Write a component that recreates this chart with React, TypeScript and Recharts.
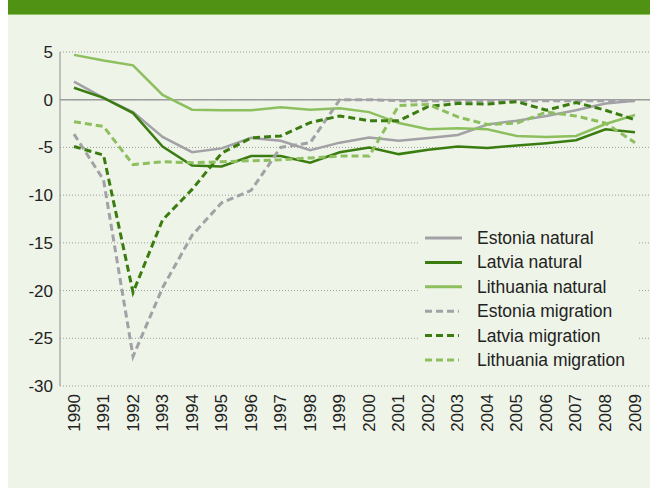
import { LineChart, Line, XAxis, YAxis, CartesianGrid, ReferenceLine, Legend } from "recharts";

const years = [
  "1990", "1991", "1992", "1993", "1994", "1995", "1996", "1997", "1998", "1999",
  "2000", "2001", "2002", "2003", "2004", "2005", "2006", "2007", "2008", "2009",
];

const estoniaNatural = [1.9, 0.2, -1.3, -3.9, -5.5, -5.1, -4.0, -4.3, -5.3, -4.5, -3.95, -4.3, -4.0, -3.7, -2.6, -2.2, -1.7, -1.1, -0.4, -0.1];
const latviaNatural = [1.25, 0.2, -1.4, -4.9, -6.9, -7.0, -5.9, -5.9, -6.6, -5.5, -5.0, -5.7, -5.25, -4.9, -5.05, -4.8, -4.55, -4.25, -3.1, -3.4];
const lithuaniaNatural = [4.7, 4.1, 3.6, 0.5, -1.05, -1.1, -1.1, -0.8, -1.05, -0.9, -1.3, -2.45, -3.1, -3.0, -3.1, -3.8, -3.9, -3.8, -2.55, -1.6];
const estoniaMigration = [-3.6, -8.4, -26.9, -19.7, -14.2, -10.8, -9.5, -5.0, -4.5, 0, 0, -0.1, -0.1, -0.1, -0.1, -0.1, -0.1, -0.1, -0.1, -0.1];
const latviaMigration = [-4.9, -5.8, -20.2, -12.6, -9.4, -5.6, -4.0, -3.8, -2.4, -1.7, -2.2, -2.2, -0.7, -0.4, -0.45, -0.2, -1.1, -0.3, -1.1, -2.1];
const lithuaniaMigration = [-2.3, -2.8, -6.8, -6.5, -6.6, -6.5, -6.4, -6.3, -6.1, -5.9, -5.9, -0.6, -0.5, -1.8, -2.6, -2.45, -1.3, -1.7, -2.45, -4.5];

const yTicks = [5, 0, -5, -10, -15, -20, -25, -30];

const data = years.map((year, i) => ({
  year,
  estNat: estoniaNatural[i],
  latNat: latviaNatural[i],
  litNat: lithuaniaNatural[i],
  estMig: estoniaMigration[i],
  latMig: latviaMigration[i],
  litMig: lithuaniaMigration[i],
}));

const GRAY = "#a2a1a6";
const DARK = "#3a7c10";
const LIGHT = "#8dbf5f";
const BG = "#eef4e8";
const FONT = "'Liberation Sans', Arial, sans-serif";

const series = [
  { key: "estNat", name: "Estonia natural", color: GRAY, dashed: false },
  { key: "latNat", name: "Latvia natural", color: DARK, dashed: false },
  { key: "litNat", name: "Lithuania natural", color: LIGHT, dashed: false },
  { key: "estMig", name: "Estonia migration", color: GRAY, dashed: true },
  { key: "latMig", name: "Latvia migration", color: DARK, dashed: true },
  { key: "litMig", name: "Lithuania migration", color: LIGHT, dashed: true },
];

function YearTick({ x, y, payload }: any) {
  const yy = y;
  return (
    <text
      x={x}
      y={yy}
      transform={`rotate(-90, ${x}, ${yy})`}
      textAnchor="end"
      dominantBaseline="central"
      fill="#222"
      fontSize={17}
      fontFamily={FONT}
    >
      {payload.value}
    </text>
  );
}

function LegendBox() {
  return (
    <svg width={220} height={148} style={{ display: "block" }}>
      <rect x={0} y={0} width={220} height={148} fill={BG} />
      {series.map((s, i) => {
        const cy = 12 + i * 24.4;
        return (
          <g key={s.key}>
            <line
              x1={7}
              x2={s.dashed ? 41 : 44}
              y1={cy}
              y2={cy}
              stroke={s.color}
              strokeWidth={3}
              strokeDasharray={s.dashed ? "7 4" : undefined}
            />
            <text x={59} y={cy} dominantBaseline="central" fill="#222" fontSize={17.5} fontFamily={FONT}>
              {s.name}
            </text>
          </g>
        );
      })}
    </svg>
  );
}

export default function App() {
  return (
    <div style={{ position: "absolute", left: 8, top: 0, width: 642, height: 488, background: BG }}>
      <div style={{ position: "absolute", left: 0, top: 0, width: 642, height: 14, background: "#4f9214", borderBottom: "1px solid #8ec45f" }} />
      <div style={{ position: "absolute", left: 0, top: 0 }}>
        <LineChart width={642} height={488} data={data} margin={{ top: 52, right: 0, bottom: 42, left: 0 }}>
          <CartesianGrid vertical={false} stroke="#9c9c9c" strokeDasharray="1 2" />
          <XAxis
            dataKey="year"
            interval={0}
            tickLine={false}
            axisLine={false}
            height={60}
            padding={{ left: 14, right: 15 }}
            tick={<YearTick />}
          />
          <YAxis
            domain={[-30, 5]}
            ticks={yTicks}
            width={52}
            tickLine={false}
            tickMargin={1}
            axisLine={{ stroke: "#9c9c9c", strokeWidth: 1.2 }}
            tick={{ fill: "#222", fontSize: 17, fontFamily: FONT }}
            allowDataOverflow
          />
          <ReferenceLine y={0} stroke="#9c9c9c" strokeWidth={1.5} />
          {series.map((s) => (
            <Line
              key={s.key}
              type="linear"
              dataKey={s.key}
              name={s.name}
              stroke={s.color}
              strokeWidth={s.dashed ? 3 : 2.5}
              strokeDasharray={s.dashed ? "7 4" : undefined}
              dot={false}
              activeDot={false}
              isAnimationActive={false}
            />
          ))}
          <Legend
            layout="vertical"
            align="center"
            verticalAlign="middle"
            content={<LegendBox />}
            wrapperStyle={{ left: 410, top: 226, width: 220, height: 148 }}
          />
        </LineChart>
      </div>
    </div>
  );
}
